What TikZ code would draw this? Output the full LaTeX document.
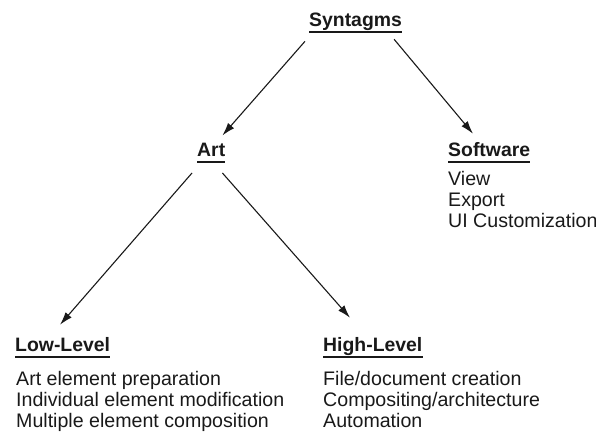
\documentclass[tikz,border=0pt]{standalone}
\usepackage{fontspec}
\setmainfont{Liberation Sans}
\usetikzlibrary{arrows.meta}
\begin{document}
\begin{tikzpicture}[x=1pt,y=1pt,
  txt/.style={inner sep=0pt,anchor=base west,text=black!90,font=\fontsize{19.6}{21}\selectfont},
  head/.style={txt,font=\fontsize{19.4}{21}\selectfont\bfseries},
  uline/.style={line width=2pt,black!90},
  conn/.style={line width=1.1pt,black!90,-{Latex[length=13pt,width=8pt]}}]
\useasboundingbox (0,0) rectangle (596,432);
% headings
\node[head] (syn) at (309,405) {Syntagms};
\node[head] (art) at (197,276) {Art};
\node[head] (sw) at (448,276) {Software};
\node[head] (low) at (15,81) {Low-Level};
\node[head] (high) at (323,81) {High-Level};
% underlines
\foreach \n in {syn,art,sw,low,high}
  \draw[uline] ([yshift=-5.5pt]\n.base west) -- ([yshift=-5.5pt]\n.base east);
% lists
\node[txt] (v1) at (448,247) {View};
\node[txt] (v2) at (448,226) {Export};
\node[txt] (v3) at (448,205) {UI Customization};
\node[txt] (l1) at (16,47) {Art element preparation};
\node[txt] (l2) at (16,26) {Individual element modification};
\node[txt] (l3) at (16,5) {Multiple element composition};
\node[txt] (h1) at (323,47) {File/document creation};
\node[txt] (h2) at (323,26) {Compositing/architecture};
\node[txt] (h3) at (323,5) {Automation};
% connectors
\draw[conn] ([xshift=-4pt,yshift=-10pt]syn.south west) -- ([xshift=-3pt,yshift=7pt]art.north east);
\draw[conn] ([xshift=-8pt,yshift=-8pt]syn.south east) -- ([xshift=25pt,yshift=8pt]sw.north west);
\draw[conn] ([xshift=-5pt,yshift=-17pt]art.base west) -- ([xshift=45pt,yshift=12pt]low.north west);
\draw[conn] ([xshift=-3pt,yshift=-17pt]art.base east) -- ([xshift=27pt,yshift=19pt]high.north west);
\end{tikzpicture}
\end{document}
